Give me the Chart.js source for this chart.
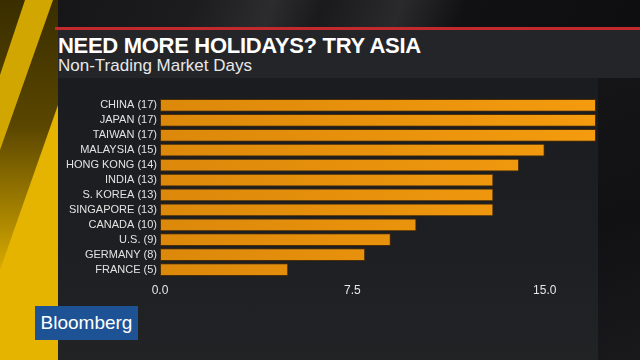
<!DOCTYPE html>
<html>
<head>
<meta charset="utf-8">
<script src="https://cdn.jsdelivr.net/npm/chart.js@4/dist/chart.umd.min.js"></script>
<style>
  html, body { margin: 0; padding: 0; }
  body { width: 640px; height: 360px; position: relative; overflow: hidden; background: #151517; font-family: "Liberation Sans", Arial, sans-serif; }
  .abs { position: absolute; }
  #top { left: 0; top: 0; width: 640px; height: 27px; background: linear-gradient(110deg, #141416 0%, #1c1c1e 30%, #2c2c2e 42%, #1a1a1c 50%, #2a2a2c 62%, #111113 72%, #0e0e10 100%); }
  #left { left: 0; top: 0; width: 58px; height: 360px; background: linear-gradient(to bottom, #3a2e00 0%, #5a4600 35%, #a88400 60%, #e0b200 78%, #f0c200 100%); }
  #stripe1 { left: 0; top: 0; width: 58px; height: 360px; background: #d2a600; clip-path: polygon(25px 0, 53px 0, 0 150px, 0 75px); }
  #stripe2 { left: 0; top: 0; width: 58px; height: 360px; background: #e4b400; clip-path: polygon(58px 105px, 58px 360px, 0 360px, 0 270px); }
  #red { left: 55px; top: 27px; width: 585px; height: 3px; background: #c42a2b; }
  #band { left: 58px; top: 30px; width: 582px; height: 48px; background: #242528; }
  #panel { left: 58px; top: 78px; width: 540px; height: 282px; background: linear-gradient(to bottom, #1b1c1f 0%, #1e1f22 60%, #222325 100%); }
  #right { left: 598px; top: 78px; width: 42px; height: 282px; background: linear-gradient(160deg, #151517 0%, #111113 50%, #19191b 100%); }
  #title { left: 58px; top: 33px; color: #fff; font-weight: bold; font-size: 22px; letter-spacing: -0.3px; }
  #subtitle { left: 58px; top: 56px; color: #e8e8e8; font-size: 17px; }
  #logo { left: 35px; top: 306px; width: 103px; height: 34px; background: #1d5294; color: #fff; font-size: 19px; line-height: 34px; text-align: center; }
  #chart { left: 0; top: 0; }
</style>
</head>
<body>
<div class="abs" id="top"></div>
<div class="abs" id="left"></div>
<div class="abs" id="stripe1"></div>
<div class="abs" id="stripe2"></div>
<div class="abs" id="red"></div>
<div class="abs" id="band"></div>
<div class="abs" id="panel"></div>
<div class="abs" id="right"></div>
<div class="abs" id="title">NEED MORE HOLIDAYS? TRY ASIA</div>
<div class="abs" id="subtitle">Non-Trading Market Days</div>
<div class="abs" id="logo">Bloomberg</div>
<canvas class="abs" id="chart" width="640" height="360"></canvas>
<script>
const countries = ["CHINA", "JAPAN", "TAIWAN", "MALAYSIA", "HONG KONG", "INDIA", "S. KOREA", "SINGAPORE", "CANADA", "U.S.", "GERMANY", "FRANCE"];
const days = [17, 17, 17, 15, 14, 13, 13, 13, 10, 9, 8, 5];
const xTicks = [0, 7.5, 15];

const labels = countries.map((c, i) => c + " (" + days[i] + ")");

function barFill(context) {
  const area = context.chart.chartArea;
  if (!area) return "#ec9410";
  const g = context.chart.ctx.createLinearGradient(area.left, 0, area.right, 0);
  g.addColorStop(0, "#dc880a");
  g.addColorStop(1, "#f49b0e");
  return g;
}

new Chart(document.getElementById("chart"), {
  type: "bar",
  data: {
    labels: labels,
    datasets: [{
      data: days,
      backgroundColor: barFill,
      borderColor: "#4a2c06",
      borderWidth: 1,
      borderSkipped: false,
      barPercentage: 0.86,
      categoryPercentage: 1
    }]
  },
  options: {
    indexAxis: "y",
    responsive: false,
    animation: false,
    layout: { padding: { left: 0, right: 44, top: 98, bottom: 63 } },
    plugins: { legend: { display: false }, tooltip: { enabled: false } },
    scales: {
      x: {
        min: 0,
        max: 17,
        afterBuildTicks: (scale) => { scale.ticks = xTicks.map(v => ({ value: v })); },
        afterFit: (scale) => { scale.height = 20; },
        grid: { display: false, drawTicks: false },
        border: { display: false },
        ticks: {
          color: "#e6e6e6",
          padding: 6,
          font: { family: "Liberation Sans", size: 12 },
          callback: (v) => Number(v).toFixed(1)
        }
      },
      y: {
        afterFit: (scale) => { scale.width = 160; },
        grid: { display: false, drawTicks: false },
        border: { display: false },
        ticks: {
          autoSkip: false,
          color: "#e2e2e2",
          padding: 3,
          font: { family: "Liberation Sans", size: 11 }
        }
      }
    }
  }
});
</script>
</body>
</html>
